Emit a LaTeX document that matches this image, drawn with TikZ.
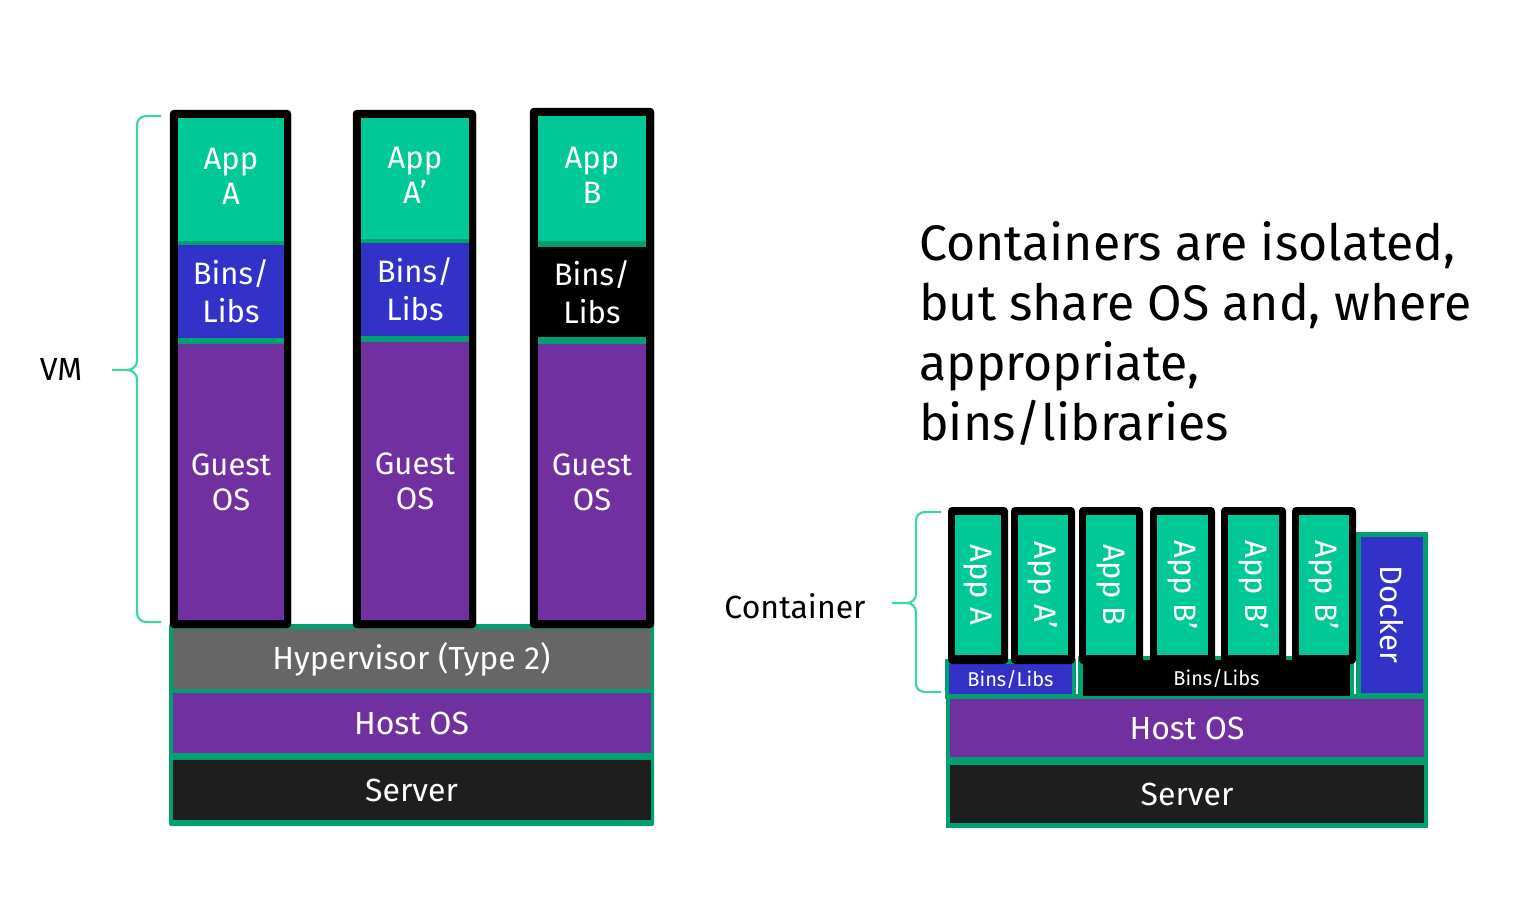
\documentclass[tikz,border=0pt]{standalone}
\usepackage{fontspec}
\setmainfont{Fira Sans}
\definecolor{appgreen}{HTML}{00C997}
\definecolor{binsblue}{HTML}{3232C8}
\definecolor{guestpurple}{HTML}{7030A0}
\definecolor{hypgray}{HTML}{666666}
\definecolor{serverblack}{HTML}{1E1E1E}
\definecolor{sepgreen}{HTML}{00A070}
\definecolor{bracegreen}{HTML}{3DD6A3}
\tikzset{
  layer/.style={draw=none, inner sep=0pt, text=white, align=center, font=\fontsize{31}{38}\selectfont},
  frame/.style={fill=black, draw=black, rounded corners=4pt},
  sepfill/.style={fill=sepgreen},
  brc/.style={draw=bracegreen, line width=2.2pt},
  lbl/.style={text=black, inner sep=0pt}
}
\begin{document}
\begin{tikzpicture}[x=1pt,y=-1pt]
\useasboundingbox (0,0) rectangle (1530,910);

% ---------- Left: VM stack ----------
\fill[sepfill, rounded corners=2pt] (169,624) rectangle (654,826);
\node[layer, fill=hypgray, minimum width=478, minimum height=60, font=\fontsize{32}{38}\selectfont] (hyp) at (411.5,659) {\raisebox{-3pt}{Hypervisor (Type 2)}};
\node[layer, fill=guestpurple, minimum width=478, minimum height=60, font=\fontsize{32}{38}\selectfont] (hostL) at (411.5,723) {Host OS};
\node[layer, fill=serverblack, minimum width=478, minimum height=60, font=\fontsize{32}{38}\selectfont] (serverL) at (411.5,790) {Server};

% VM column 1
\node[frame, minimum width=121, minimum height=518, inner sep=0pt] (vm1) at (230.5,369) {};
\fill[sepfill] (178,118) rectangle (284,620);
\node[layer, fill=appgreen, minimum width=106, minimum height=123] (appA) at (231,179.5) {\raisebox{10pt}{\begin{tabular}{@{}c@{}}App\\[-3pt]A\end{tabular}}};
\node[layer, fill=binsblue, minimum width=106, minimum height=93] (bins1) at (231,291.5) {Bins/\\[0pt]Libs};
\node[layer, fill=guestpurple, minimum width=106, minimum height=276] (guest1) at (231,482) {Guest\\[-3pt]OS};

% VM column 2
\node[frame, minimum width=123, minimum height=518, inner sep=0pt] (vm2) at (414.5,369) {};
\fill[sepfill] (361,118) rectangle (469,620);
\node[layer, fill=appgreen, minimum width=108, minimum height=121] (appA2) at (415,178.5) {\raisebox{10pt}{\begin{tabular}{@{}c@{}}App\\[-3pt]A’\end{tabular}}};
\node[layer, fill=binsblue, minimum width=108, minimum height=93] (bins2) at (415,289.5) {Bins/\\[0pt]Libs};
\node[layer, fill=guestpurple, minimum width=108, minimum height=278] (guest2) at (415,481) {Guest\\[-3pt]OS};

% VM column 3
\node[frame, minimum width=124, minimum height=520, inner sep=0pt] (vm3) at (592,368) {};
\fill[sepfill] (538,116) rectangle (646,620);
\node[layer, fill=appgreen, minimum width=108, minimum height=125] (appB) at (592,178.5) {\raisebox{10pt}{\begin{tabular}{@{}c@{}}App\\[-3pt]B\end{tabular}}};
\node[layer, fill=black, minimum width=108, minimum height=90] (bins3) at (592,292) {Bins/\\[0pt]Libs};
\node[layer, fill=guestpurple, minimum width=108, minimum height=276] (guest3) at (592,482) {Guest\\[-3pt]OS};

% VM brace and label
\draw[brc] (161,116) -- (146,116) to[out=180,in=90] (137,125) -- (137,361) to[out=-90,in=0] (127,370) -- (112,370);
\draw[brc] (127,370) to[out=0,in=90] (137,379) -- (137,613) to[out=-90,in=180] (146,622) -- (161,622);
\node[lbl, font=\fontsize{32}{34}\selectfont] (vm) at (61,369) {VM};

% ---------- Right: container stack ----------
\fill[sepfill] (946,694) rectangle (1428,828);
\fill[sepfill] (1356,532) rectangle (1428,700);
\fill[sepfill] (945,659) rectangle (1076,699);
\fill[sepfill] (1078,656) rectangle (1354,701);
\node[layer, fill=binsblue, minimum width=156, minimum height=62, rotate=-90] (docker) at (1392,614.5) {Docker};
\node[layer, fill=binsblue, minimum width=123, minimum height=30, font=\fontsize{20}{22}\selectfont] (cbins1) at (1010.5,679) {Bins/Libs};
\node[layer, fill=black, minimum width=267, minimum height=36, font=\fontsize{20}{22}\selectfont] (cbins2) at (1216.5,678) {Bins/Libs};
\node[layer, fill=guestpurple, minimum width=474, minimum height=58, font=\fontsize{32}{38}\selectfont] (hostR) at (1187,728) {Host OS};
\node[layer, fill=serverblack, minimum width=474, minimum height=58, font=\fontsize{32}{38}\selectfont] (serverR) at (1187,794) {Server};

% container columns
\foreach \xl/\xr in {948/1008, 1011/1075, 1079/1143, 1150/1215, 1221/1286, 1292/1356}{
  \fill[black, rounded corners=4pt] (\xl,507) rectangle (\xr,664);
}
\node[layer, fill=appgreen, minimum width=140, minimum height=46, rotate=-90] (appc1) at (978,585) {App A};
\node[layer, fill=appgreen, minimum width=140, minimum height=50, rotate=-90] (appc2) at (1043,585) {App A’};
\node[layer, fill=appgreen, minimum width=140, minimum height=50, rotate=-90] (appc3) at (1111,585) {App B};
\node[layer, fill=appgreen, minimum width=140, minimum height=51, rotate=-90] (appc4) at (1182.5,585) {App B’};
\node[layer, fill=appgreen, minimum width=140, minimum height=51, rotate=-90] (appc5) at (1253.5,585) {App B’};
\node[layer, fill=appgreen, minimum width=140, minimum height=50, rotate=-90] (appc6) at (1324,585) {App B’};

% container brace and label
\draw[brc] (941,512) -- (925,512) to[out=180,in=90] (916,520) -- (916,594) to[out=-90,in=0] (907,603) -- (892,603);
\draw[brc] (907,603) to[out=0,in=90] (916,612) -- (916,684) to[out=-90,in=180] (925,692) -- (941,692);
\node[lbl, font=\fontsize{32}{34}\selectfont] (cont) at (795,606) {Container};

% ---------- paragraph ----------
\node[lbl, anchor=north west, align=left, font=\fontsize{50}{60}\selectfont] (para) at (919,221)
  {Containers are isolated,\\but share OS and, where\\appropriate,\\bins/libraries};
\end{tikzpicture}
\end{document}
